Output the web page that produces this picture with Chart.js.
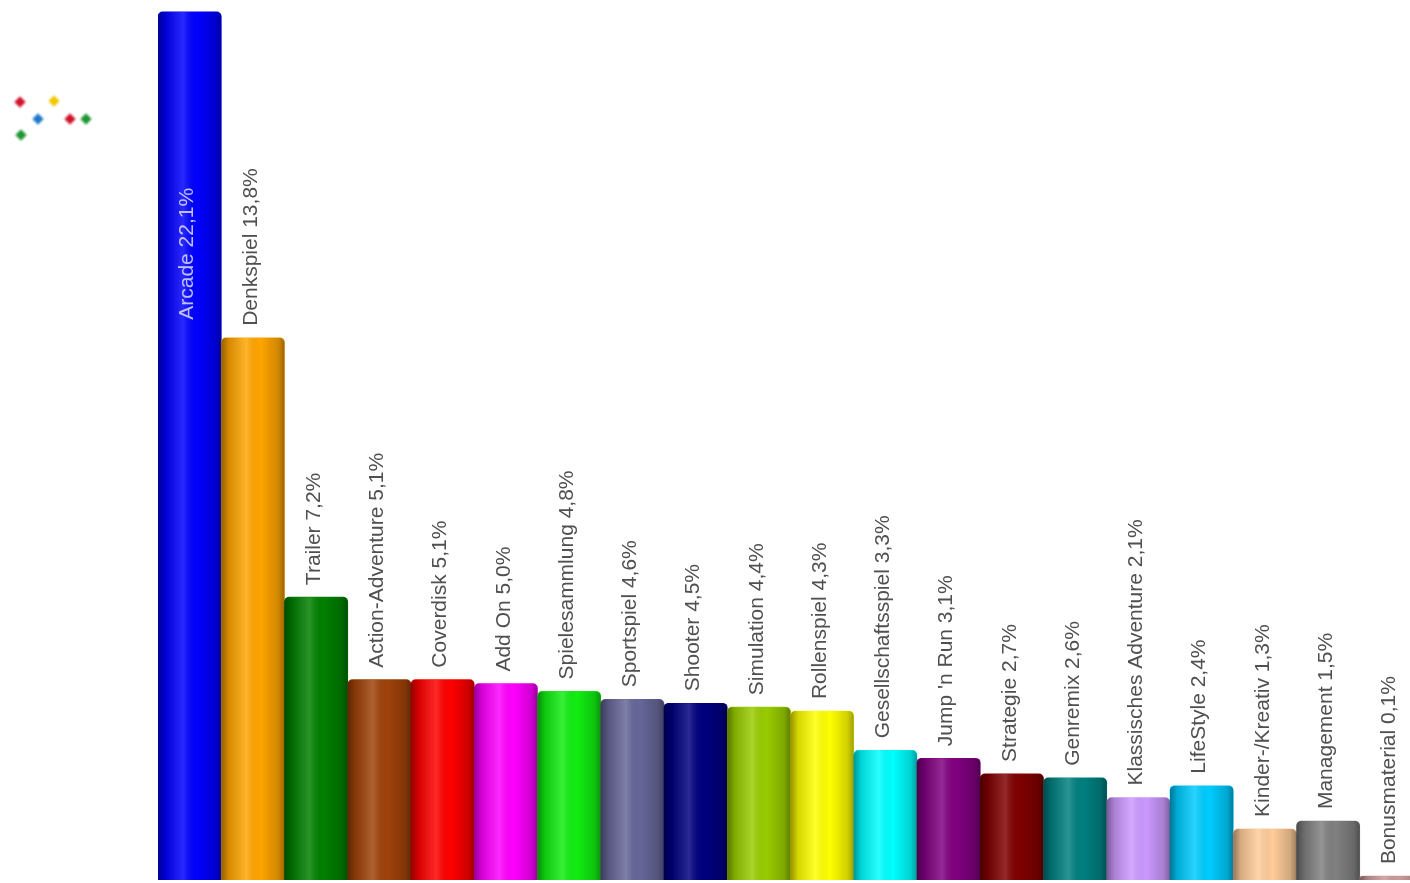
<!DOCTYPE html>
<html>
<head>
<meta charset="utf-8">
<script src="https://cdn.jsdelivr.net/npm/chart.js@4/dist/chart.umd.min.js"></script>
<style>
  html, body { margin: 0; padding: 0; background: #fff; overflow: hidden; }
  #wrap { position: relative; width: 1410px; height: 883px; overflow: hidden; }
  #chart { position: absolute; left: 0; top: 0; }
  .dot { position: absolute; width: 8px; height: 8px; transform: rotate(45deg); filter: blur(0.9px); }
</style>
</head>
<body>
<div id="wrap">
  <canvas id="chart" width="1424" height="883"></canvas>
  <!-- little logo in the top left corner -->
  <div class="dot" style="left:16px;top:98px;background:#d0142c"></div>
  <div class="dot" style="left:50px;top:97px;background:#f0c800"></div>
  <div class="dot" style="left:34px;top:115px;background:#1e78c8"></div>
  <div class="dot" style="left:66px;top:115px;background:#d0142c"></div>
  <div class="dot" style="left:82px;top:115px;background:#1e9632"></div>
  <div class="dot" style="left:17px;top:131px;background:#1e9632"></div>
</div>
<script>
// genre shares in percent
const categories = [
  "Arcade", "Denkspiel", "Trailer", "Action-Adventure", "Coverdisk",
  "Add On", "Spielesammlung", "Sportspiel", "Shooter", "Simulation",
  "Rollenspiel", "Gesellschaftsspiel", "Jump 'n Run", "Strategie", "Genremix",
  "Klassisches Adventure", "LifeStyle", "Kinder-/Kreativ", "Management", "Bonusmaterial",
];
const shares = [
  22.1, 13.8, 7.2, 5.1, 5.1,
  5.0, 4.8, 4.6, 4.5, 4.4,
  4.3, 3.3, 3.1, 2.7, 2.6,
  2.1, 2.4, 1.3, 1.5, 0.1,
];
const barColors = [
  "#0000ff", "#ffa500", "#008000", "#a0420a", "#ff0000",
  "#ff00ff", "#11ee11", "#666699", "#000080", "#99cc00",
  "#ffff00", "#00ffff", "#800080", "#800000", "#008080",
  "#cc99ff", "#00ccff", "#ffcc99", "#808080", "#cc9999",
];

const fmt = (v) => v.toFixed(1).replace(".", ",") + "%";
const barLabels = categories.map((c, i) => c + " " + fmt(shares[i]));

// shading on top of each bar so it looks like a cylinder
const cylinderShade = {
  id: "cylinderShade",
  afterDatasetsDraw(chart) {
    const ctx = chart.ctx;
    const meta = chart.getDatasetMeta(0);
    ctx.save();
    meta.data.forEach((bar) => {
      const left = bar.x - bar.width / 2;
      const right = bar.x + bar.width / 2;
      const g = ctx.createLinearGradient(left, 0, right, 0);
      g.addColorStop(0, "rgba(0,0,0,0.42)");
      g.addColorStop(0.12, "rgba(0,0,0,0.16)");
      g.addColorStop(0.4, "rgba(255,255,255,0.16)");
      g.addColorStop(0.62, "rgba(0,0,0,0)");
      g.addColorStop(0.9, "rgba(0,0,0,0.18)");
      g.addColorStop(1, "rgba(0,0,0,0.38)");
      ctx.fillStyle = g;
      ctx.beginPath();
      ctx.roundRect(left, bar.y, bar.width, bar.base - bar.y, [5, 5, 0, 0]);
      ctx.fill();
    });
    ctx.restore();
  },
};

// rotated labels above the bars (inside the tallest one)
const barText = {
  id: "barText",
  afterDatasetsDraw(chart) {
    const ctx = chart.ctx;
    const meta = chart.getDatasetMeta(0);
    ctx.save();
    ctx.font = "21px 'Liberation Sans', Arial, sans-serif";
    ctx.textBaseline = "middle";
    meta.data.forEach((bar, i) => {
      const text = barLabels[i];
      const w = ctx.measureText(text).width;
      ctx.save();
      let y = bar.y - 12;
      ctx.fillStyle = "#505050";
      ctx.textAlign = "left";
      if (y - w < 0) {
        y = bar.y + 308;
        ctx.fillStyle = "rgba(210,210,255,0.9)";
      }
      ctx.translate(bar.x - 2, y);
      ctx.rotate(-Math.PI / 2);
      ctx.fillText(text, 0, 0);
      ctx.restore();
    });
    ctx.restore();
  },
};

new Chart(document.getElementById("chart"), {
  type: "bar",
  data: {
    labels: categories,
    datasets: [{
      data: shares,
      backgroundColor: barColors,
      borderWidth: 0,
      borderRadius: { topLeft: 5, topRight: 5, bottomLeft: 0, bottomRight: 0 },
      borderSkipped: "bottom",
      categoryPercentage: 1,
      barPercentage: 1,
    }],
  },
  options: {
    responsive: false,
    animation: false,
    events: [],
    layout: { padding: { left: 158, right: 1, top: 0, bottom: 3 } },
    plugins: { legend: { display: false }, tooltip: { enabled: false } },
    scales: {
      x: { display: false },
      y: { display: false, min: 0, max: 22.4 },
    },
  },
  plugins: [cylinderShade, barText],
});
</script>
</body>
</html>
